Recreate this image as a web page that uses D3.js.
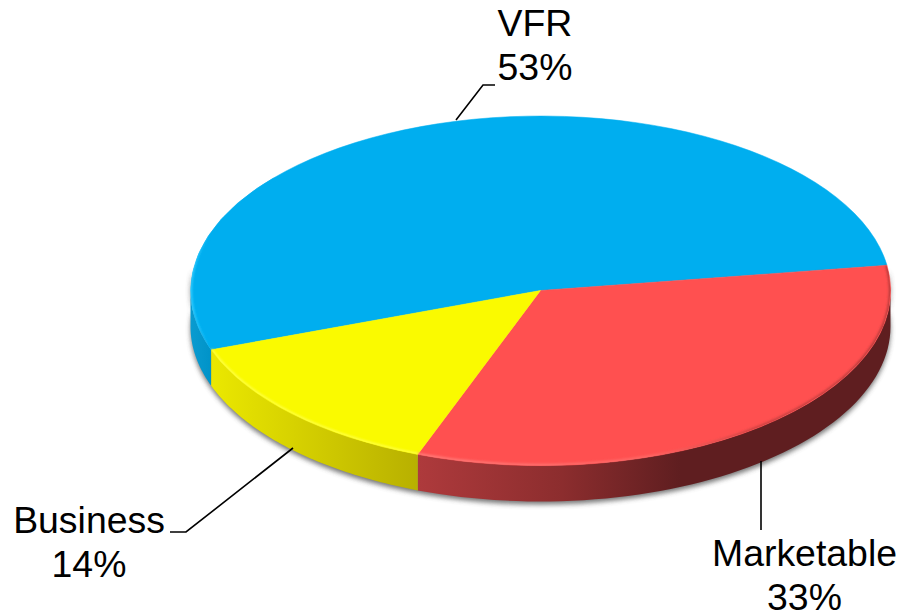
<!DOCTYPE html>
<html><head><meta charset="utf-8">
<script src="https://cdn.jsdelivr.net/npm/d3@7/dist/d3.min.js"></script>
<style>html,body{margin:0;padding:0;background:#fff;overflow:hidden}svg{display:block}</style>
</head><body><div id="c"></div>
<script>
(function(){
const categories = ["VFR","Marketable","Business"];
const shares = [53.2,33,13.8];
const percentLabels = ["53%","33%","14%"];
const topColors = ["#00AEEF","#FF5050","#FAFA00"];
const rimStops = [
  [["0","#30CCFF"],["0.25","#00AEEF"],["1","#00AEEF"]],
  [["0","#FF7A78"],["0.5","#FF6664"],["0.72","#C94040"],["1","#B83A3A"]],
  [["0","#FFFF40"],["1","#FFFF40"]]
];
const wallStops = [
  [["0","#0A9BD0"],["1","#0093C8"]],
  [["0","#AE3A3C"],["0.55","#8C2D2E"],["1","#5F1E20"]],
  [["0","#EBE800"],["1","#B8B000"]]
];
const W=899,H=612;
const cx=540.5,cy=290.5,rx=350,ry=175,depth=36;
const start=250.2*Math.PI/180;
const svg=d3.select("#c").append("svg").attr("width",W).attr("height",H);
const defs=svg.append("defs");
defs.append("filter").attr("id","sh").attr("x","-10%").attr("y","-10%").attr("width","120%").attr("height","120%")
  .append("feGaussianBlur").attr("stdDeviation",2.4);
defs.append("filter").attr("id","soft").attr("filterUnits","userSpaceOnUse").attr("x",0).attr("y",0).attr("width",W).attr("height",H)
  .append("feGaussianBlur").attr("stdDeviation",0.8);

const sx=d3.scaleLinear().domain([-1,1]).range([cx-rx,cx+rx]);
const sy=d3.scaleLinear().domain([-1,1]).range([cy-ry,cy+ry]);
const pt=(a,dy=0)=>[sx(Math.sin(a)),sy(-Math.cos(a))+dy];
const pie=d3.pie().sort(null).startAngle(start).endAngle(start+2*Math.PI)(shares);
const samples=(a0,a1)=>d3.range(0,61).map(i=>a0+(a1-a0)*i/60);
const line=d3.line();
const wallPath=(a0,a1)=>{
  const s=samples(a0,a1);
  return line(s.map(a=>pt(a)).concat(s.slice().reverse().map(a=>pt(a,depth))))+"Z";
};
const PI=Math.PI;
// silhouette for the soft shadow
const lower=samples(PI/2-0.12,3*PI/2+0.12);
svg.append("path").attr("fill","#4a4a4a").attr("opacity",0.75).attr("filter","url(#sh)")
  .attr("d",line(lower.map(a=>pt(a,depth+2)).concat(lower.slice().reverse().map(a=>pt(a,0))))+"Z")
  .attr("transform","translate(0,1)");

// side walls
const wallGradEnd=[null,680,null];
pie.forEach((d,i)=>{
  let a0=d.startAngle,a1=d.endAngle,segs=[];
  [[PI/2,3*PI/2],[PI/2+2*PI,3*PI/2+2*PI]].forEach(([l,h])=>{
    const p=Math.max(a0,l),q=Math.min(a1,h);
    if(q>p)segs.push([p,q]);
  });
  segs.forEach(([p,q],k)=>{
    const xs=[pt(p)[0],pt(q)[0]];
    const id="w"+i+"_"+k;
    const g=defs.append("linearGradient").attr("id",id).attr("gradientUnits","userSpaceOnUse")
      .attr("x1",d3.min(xs)).attr("x2",wallGradEnd[i]||d3.max(xs)).attr("y1",0).attr("y2",0);
    wallStops[i].forEach(s=>g.append("stop").attr("offset",s[0]).attr("stop-color",s[1]));
    svg.append("path").attr("d",wallPath(p,q)).attr("fill","url(#"+id+")");
  });
});
// top slices
const arc=d3.arc().innerRadius(0).outerRadius(1);
const topFace=svg.append("g").attr("transform",`translate(${cx},${cy}) scale(${rx},${ry})`);
topFace.selectAll("path").data(pie).join("path").attr("d",arc).attr("fill",(d,i)=>topColors[i])
  .attr("stroke",(d,i)=>topColors[i]).attr("stroke-width",0.002);
// rim bevel
const clip=defs.append("clipPath").attr("id","topclip");
clip.append("path").attr("d",line(samples(0,2*PI).map(a=>pt(a)))+"Z");
const rim=svg.append("g").attr("clip-path","url(#topclip)");
pie.forEach((d,i)=>{
  // the blue slice only catches light on its left flank
  const a0=d.startAngle, a1=i===0?d.startAngle+60*PI/180:d.endAngle;
  const pts=samples(a0,a1).map(a=>pt(a));
  const xs=d3.extent(pts,p=>p[0]);
  const id="r"+i;
  const g=defs.append("linearGradient").attr("id",id).attr("gradientUnits","userSpaceOnUse")
    .attr("x1",xs[0]).attr("x2",xs[1]).attr("y1",0).attr("y2",0);
  rimStops[i].forEach(s=>g.append("stop").attr("offset",s[0]).attr("stop-color",s[1]));
  rim.append("path").attr("d",line(pts))
    .attr("fill","none").attr("stroke","url(#"+id+")").attr("stroke-width",3.4).attr("filter","url(#soft)");
});
// leader lines
const leaders=[
  [[456,120],[483,85],[495,85]],
  [[761,461],[761,530]],
  [[293,448],[186,532],[170,532]]
];
svg.append("g").selectAll("path").data(leaders).join("path").attr("d",d=>line(d))
  .attr("fill","none").attr("stroke","#000").attr("stroke-width",1.6);
// labels
const labelPos=[[535,36],[804.5,566],[89,533]];
const labels=svg.append("g").attr("font-family","'Liberation Sans',Arial,sans-serif").attr("font-size",37.4)
  .attr("text-anchor","middle").attr("fill","#000");
categories.forEach((c,i)=>{
  labels.append("text").attr("x",labelPos[i][0]).attr("y",labelPos[i][1]).text(c);
  labels.append("text").attr("x",labelPos[i][0]).attr("y",labelPos[i][1]+44).text(percentLabels[i]);
});
})();
</script></body></html>
